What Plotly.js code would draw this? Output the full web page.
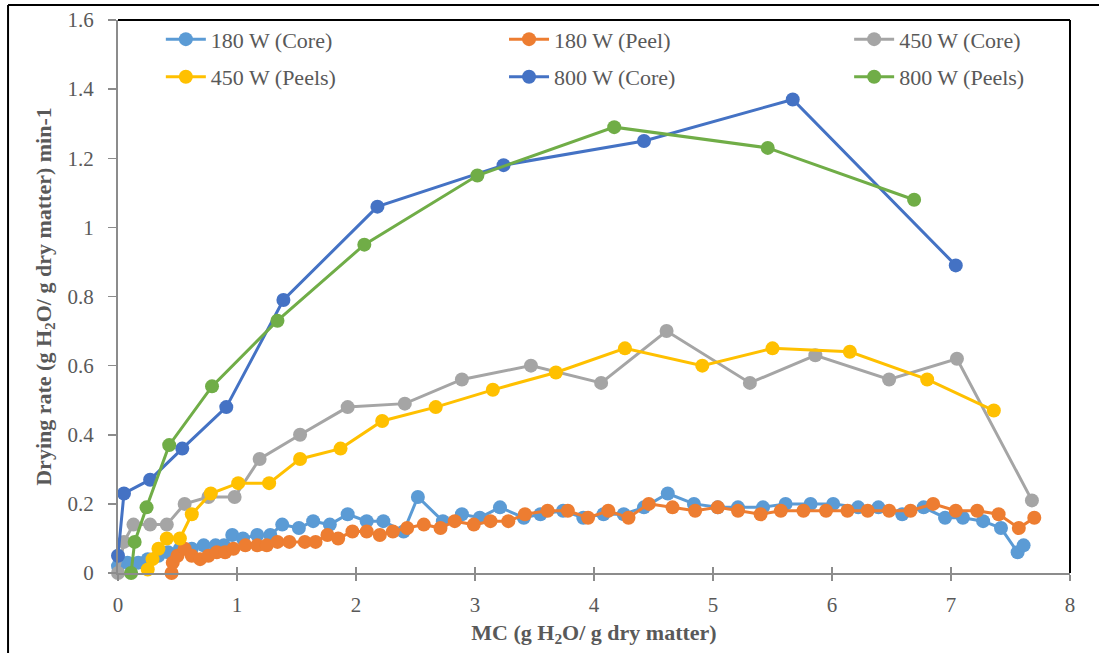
<!DOCTYPE html>
<html>
<head>
<meta charset="utf-8">
<script src="https://cdn.plot.ly/plotly-3.0.1.min.js"></script>
<style>
html,body{margin:0;padding:0;background:#fff;}
#chart{width:1099px;height:653px;}
</style>
</head>
<body>
<div id="chart"></div>
<script>
// 180 W (Core)
const core180_x = [0.00,0.08,0.17,0.25,0.34,0.42,0.52,0.62,0.72,0.82,0.89,0.96,1.05,1.17,1.28,1.38,1.52,1.64,1.78,1.93,2.09,2.23,2.40,2.52,2.73,2.89,3.04,3.21,3.41,3.55,3.74,3.91,4.08,4.25,4.42,4.62,4.84,5.04,5.21,5.42,5.61,5.82,6.01,6.22,6.39,6.59,6.77,6.95,7.10,7.27,7.42,7.56,7.61];
const core180_y = [0.02,0.03,0.03,0.04,0.05,0.06,0.07,0.07,0.08,0.08,0.08,0.11,0.10,0.11,0.11,0.14,0.13,0.15,0.14,0.17,0.15,0.15,0.12,0.22,0.15,0.17,0.16,0.19,0.16,0.17,0.18,0.16,0.17,0.17,0.19,0.23,0.20,0.19,0.19,0.19,0.20,0.20,0.20,0.19,0.19,0.17,0.19,0.16,0.16,0.15,0.13,0.06,0.08];
// 180 W (Peel)
const peel180_x = [0.45,0.46,0.50,0.56,0.62,0.69,0.76,0.83,0.90,0.97,1.07,1.17,1.25,1.34,1.44,1.57,1.66,1.76,1.85,1.97,2.09,2.20,2.31,2.43,2.57,2.71,2.83,2.99,3.13,3.28,3.42,3.61,3.78,3.95,4.12,4.29,4.46,4.66,4.85,5.04,5.21,5.40,5.57,5.76,5.95,6.13,6.30,6.48,6.66,6.85,7.04,7.22,7.40,7.57,7.70];
const peel180_y = [0.00,0.03,0.05,0.07,0.05,0.04,0.05,0.06,0.06,0.07,0.08,0.08,0.08,0.09,0.09,0.09,0.09,0.11,0.10,0.12,0.12,0.11,0.12,0.13,0.14,0.13,0.15,0.14,0.15,0.15,0.17,0.18,0.18,0.16,0.18,0.16,0.20,0.19,0.18,0.19,0.18,0.17,0.18,0.18,0.18,0.18,0.18,0.18,0.18,0.20,0.18,0.18,0.17,0.13,0.16];
// 450 W (Core)
const core450_x = [0.00,0.05,0.13,0.27,0.41,0.56,0.76,0.98,1.19,1.53,1.93,2.41,2.89,3.47,4.06,4.61,5.31,5.86,6.48,7.05,7.68];
const core450_y = [0.00,0.09,0.14,0.14,0.14,0.20,0.22,0.22,0.33,0.40,0.48,0.49,0.56,0.60,0.55,0.70,0.55,0.63,0.56,0.62,0.21];
// 450 W (Peels)
const peels450_x = [0.25,0.29,0.34,0.41,0.52,0.62,0.78,1.01,1.27,1.53,1.87,2.22,2.67,3.15,3.68,4.26,4.91,5.50,6.15,6.80,7.36];
const peels450_y = [0.01,0.04,0.07,0.10,0.10,0.17,0.23,0.26,0.26,0.33,0.36,0.44,0.48,0.53,0.58,0.65,0.60,0.65,0.64,0.56,0.47];
// 800 W (Core)
const core800_x = [0.00,0.05,0.27,0.54,0.91,1.39,2.18,3.24,4.42,5.67,7.04];
const core800_y = [0.05,0.23,0.27,0.36,0.48,0.79,1.06,1.18,1.25,1.37,0.89];
// 800 W (Peels)
const peels800_x = [0.11,0.14,0.24,0.43,0.79,1.34,2.07,3.02,4.17,5.46,6.69];
const peels800_y = [0.00,0.09,0.19,0.37,0.54,0.73,0.95,1.15,1.29,1.23,1.08];

const seriesNames = ['180 W (Core)','180 W (Peel)','450 W (Core)','450 W (Peels)','800 W (Core)','800 W (Peels)'];
const seriesColors = ['#5B9BD5','#ED7D31','#A5A5A5','#FFC000','#4472C4','#70AD47'];
const seriesX = [core180_x, peel180_x, core450_x, peels450_x, core800_x, peels800_x];
const seriesY = [core180_y, peel180_y, core450_y, peels450_y, core800_y, peels800_y];
const legendIds = ['legend','legend2','legend3','legend','legend2','legend3'];

const FONT = 'Liberation Serif';

const traces = seriesNames.map((n, i) => ({
  type: 'scatter',
  mode: 'lines+markers',
  name: n,
  x: seriesX[i],
  y: seriesY[i],
  legend: legendIds[i],
  legendgroup: 'g' + i,
  line: {color: seriesColors[i], width: 3},
  marker: {color: seriesColors[i], size: 14},
  cliponaxis: false
}));

// overlay axis for the inner half of the crossing x ticks
traces.push({type:'scatter', x:[0], y:[0], xaxis:'x2', mode:'markers', marker:{opacity:0}, showlegend:false, hoverinfo:'skip'});

function legendAt(x) {
  return {
    orientation: 'v',
    x: x, y: 1.003, xanchor: 'left', yanchor: 'top',
    itemwidth: 40,
    tracegroupgap: 6,
    traceorder: 'grouped',
    bgcolor: 'rgba(255,255,255,0)',
    font: {family: FONT, size: 22, color: '#595959'}
  };
}

const layout = {
  width: 1099,
  height: 653,
  margin: {l: 118, r: 29, t: 20, b: 80},
  paper_bgcolor: '#ffffff',
  plot_bgcolor: '#ffffff',
  font: {family: FONT, color: '#595959', size: 21},
  showlegend: true,
  legend: legendAt(0.045),
  legend2: legendAt(0.4055),
  legend3: legendAt(0.768),
  xaxis: {
    range: [0, 8], dtick: 1, tick0: 0,
    showgrid: false, zeroline: false,
    showline: true, linecolor: '#8c8c8c', linewidth: 2,
    ticks: 'outside', ticklen: 6, tickwidth: 1.5, tickcolor: '#8c8c8c',
    ticklabelstandoff: 6,
    tickfont: {family: FONT, size: 21, color: '#595959'},
    title: {text: '<b>MC (g H<sub>2</sub>O/ g dry matter)</b>', font: {family: FONT, size: 22, color: '#595959'}, standoff: 8}
  },
  xaxis2: {
    range: [0, 8], dtick: 1, tick0: 0, overlaying: 'x', anchor: 'y', side: 'bottom',
    showgrid: false, zeroline: false, showline: false, showticklabels: false,
    ticks: 'inside', ticklen: 6, tickwidth: 1.5, tickcolor: '#8c8c8c'
  },
  yaxis: {
    range: [0, 1.6], dtick: 0.2, tick0: 0,
    showgrid: false, zeroline: false,
    showline: true, linecolor: '#8c8c8c', linewidth: 2,
    ticks: 'outside', ticklen: 8, tickwidth: 1.5, tickcolor: '#8c8c8c',
    ticklabelstandoff: 10,
    tickfont: {family: FONT, size: 21, color: '#595959'},
    title: {text: '<b>Drying rate (g H<sub>2</sub>O/ g dry matter) min-1</b>', font: {family: FONT, size: 22, color: '#595959'}, standoff: 10}
  },
  shapes: [
    {type:'line', xref:'paper', yref:'paper', x0:0, x1:1, y0:1, y1:1, line:{color:'#000', width:2}, layer:'below'},
    {type:'line', xref:'paper', yref:'paper', x0:1, x1:1, y0:0, y1:1, line:{color:'#000', width:2}, layer:'below'},
    {type:'line', xref:'paper', yref:'paper', x0:-0.1155, x1:-0.1155, y0:-0.15, y1:1.0271, line:{color:'#000', width:2}},
    {type:'line', xref:'paper', yref:'paper', x0:-0.1155, x1:1.04, y0:1.0271, y1:1.0271, line:{color:'#000', width:2}}
  ]
};

Plotly.newPlot('chart', traces, layout, {displayModeBar: false, staticPlot: true});
</script>
</body>
</html>
